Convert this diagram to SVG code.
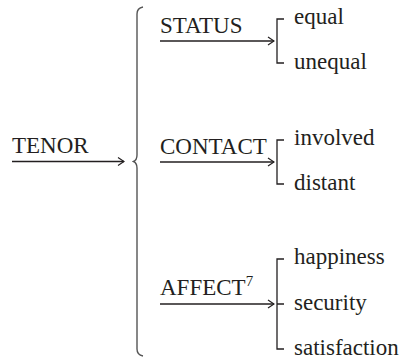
<svg xmlns="http://www.w3.org/2000/svg" width="402" height="359" viewBox="0 0 402 359">
  <style>
    text { font-family: "Liberation Serif", "Times New Roman", serif; font-size: 23px; fill: #231f20; }
    .ln { stroke: #231f20; stroke-width: 1.3; fill: none; }
    .br { stroke: #555; stroke-width: 1.4; fill: none; }
    .sup { font-size: 15px; }
  </style>
  <defs>
    <marker id="head" viewBox="0 0 10 10" refX="9" refY="5" markerWidth="10" markerHeight="10" markerUnits="userSpaceOnUse" orient="auto">
      <path d="M3,1 L9,5 L3,9" fill="none" stroke="#231f20" stroke-width="1.2"/>
    </marker>
  </defs>

  <!-- system labels -->
  <g id="tenor"><text x="12" y="153">TENOR</text></g>
  <g id="status"><text x="160" y="33">STATUS</text></g>
  <g id="contact"><text x="160" y="154">CONTACT</text></g>
  <g id="affect"><text x="160" y="295">AFFECT<tspan class="sup" dy="-9">7</tspan></text></g>

  <!-- options -->
  <g id="equal"><text x="294" y="24">equal</text></g>
  <g id="unequal"><text x="294" y="69">unequal</text></g>
  <g id="involved"><text x="294" y="145">involved</text></g>
  <g id="distant"><text x="294" y="190">distant</text></g>
  <g id="happiness"><text x="294" y="264">happiness</text></g>
  <g id="security"><text x="294" y="310">security</text></g>
  <g id="satisfaction"><text x="294" y="355">satisfaction</text></g>

  <g id="connectors">
    <!-- entry arrows -->
    <line class="ln" x1="12" y1="161.5" x2="124" y2="161.5" marker-end="url(#head)"/>
    <line class="ln" x1="160" y1="41" x2="274" y2="41" marker-end="url(#head)"/>
    <line class="ln" x1="160" y1="162" x2="274" y2="162" marker-end="url(#head)"/>
    <line class="ln" x1="160" y1="304" x2="274" y2="304" marker-end="url(#head)"/>

    <!-- curly brace over the three systems -->
    <path class="br" d="M143,7 Q137,8 137,14 L137,155 Q137,160 133.5,161.5 Q137,163 137,168 L137,349 Q137,355 143,356"/>

    <!-- square brackets -->
    <path class="ln" d="M284,19 L277,19 L277,63 L284,63"/>
    <path class="ln" d="M284,140 L277,140 L277,184 L284,184"/>
    <path class="ln" d="M284,259 L277,259 L277,349 L284,349 M277,304 L284,304"/>
  </g>
</svg>
